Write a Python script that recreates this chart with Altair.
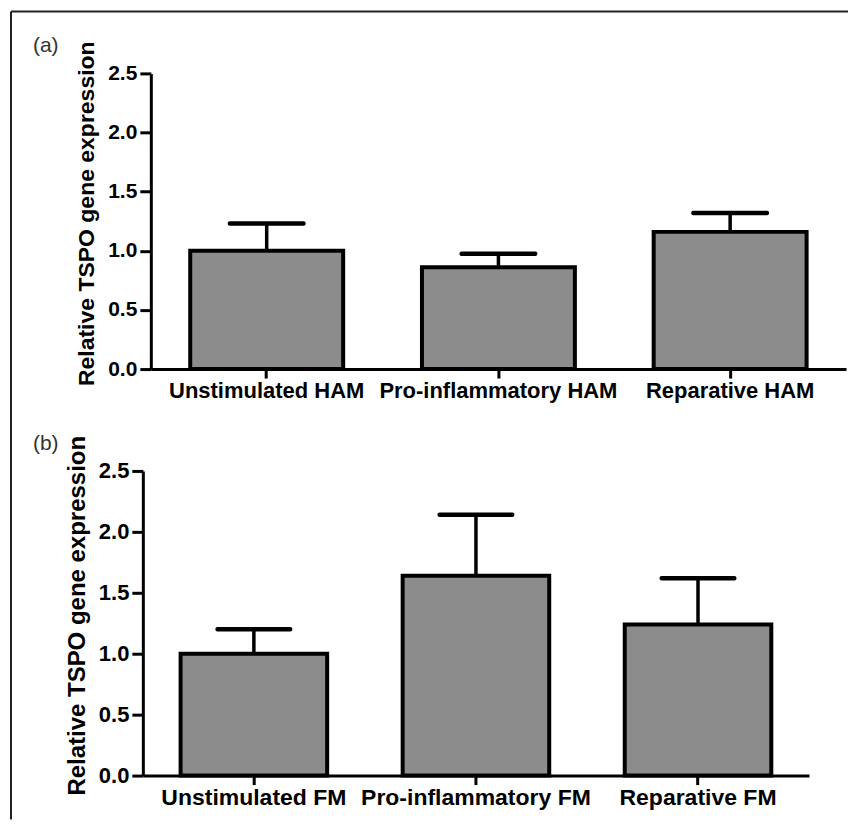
import altair as alt
import pandas as pd

# ---- data ----
cats_a = ["Unstimulated HAM", "Pro-inflammatory HAM", "Reparative HAM"]
mean_a = [1.00, 0.86, 1.16]
upper_a = [1.23, 0.975, 1.32]

cats_b = ["Unstimulated FM", "Pro-inflammatory FM", "Reparative FM"]
mean_b = [1.00, 1.64, 1.24]
upper_b = [1.20, 2.14, 1.62]

y_ticks = [0.0, 0.5, 1.0, 1.5, 2.0, 2.5]
y_title = "Relative TSPO gene expression"
letters = ["(a)", "(b)"]

FONT = "Liberation Sans"
FILL = "#8c8c8c"


def panel(cats, means, uppers, letter, w, h, xr, axis_off, xfs, yfs, tfs, cap, frame=False):
    df = pd.DataFrame({"cat": cats, "mean": means, "upper": uppers})
    sc = dict(paddingInner=0.34, paddingOuter=0.17)
    if xr is not None:
        sc["range"] = xr
    x = alt.X(
        "cat:N", sort=cats, title=None,
        scale=alt.Scale(**sc),
        axis=alt.Axis(labelAngle=0, labelFont=FONT, labelFontSize=xfs, labelLimit=0,
                      labelFontWeight="bold", labelColor="black", labelPadding=2,
                      tickSize=9, tickWidth=3, tickColor="black",
                      domainColor="black", domainWidth=3, bandPosition=0.5),
    )
    y = alt.Y(
        "mean:Q", title=y_title,
        scale=alt.Scale(domain=[0, 2.5], nice=False),
        axis=alt.Axis(values=y_ticks, format=".1f", offset=axis_off, grid=False,
                      labelFont=FONT, labelFontSize=yfs, labelFontWeight="bold",
                      labelColor="black", labelPadding=3,
                      tickSize=11, tickWidth=3, tickColor="black",
                      domainColor="black", domainWidth=3,
                      titleFont=FONT, titleFontSize=tfs, titleFontWeight="bold",
                      titleColor="black", titlePadding=9, titleY=h / 2 - 8),
    )
    base = alt.Chart(df)
    err = base.mark_rule(stroke="black", strokeWidth=3.5).encode(x=x, y=y, y2="upper:Q")
    caps = base.mark_tick(color="black", opacity=1, thickness=4.5, size=cap,
                          cornerRadius=2).encode(x=x, y=alt.Y("upper:Q"))
    bars = base.mark_bar(fill=FILL, stroke="black", strokeWidth=4, opacity=1).encode(x=x, y=y)
    lab = alt.Chart(pd.DataFrame({"t": [letter]})).mark_text(
        align="left", baseline="alphabetic", font=FONT, fontSize=21, color="#333333"
    ).encode(x=alt.value(-110), y=alt.value(-21), text="t:N")
    layers = [err, caps, bars, lab]
    if frame:
        fdf = alt.Chart(pd.DataFrame({"k": [0]}))
        top = fdf.mark_rule(color="#222222", strokeWidth=2).encode(
            x=alt.value(-132), x2=alt.value(706), y=alt.value(-62))
        left = fdf.mark_rule(color="#222222", strokeWidth=2).encode(
            x=alt.value(-132), y=alt.value(-62), y2=alt.value(747))
        layers += [top, left]
    return alt.layer(*layers).properties(width=w, height=h)


pa = panel(cats_a, mean_a, upper_a, letters[0], 704, 296, [8, 704], -8, 22, 21, 23, 78, frame=True)
pb = panel(cats_b, mean_b, upper_b, letters[1], 667, 305, None, 0, 23, 22, 24, 77)

chart = alt.vconcat(pa, pb, spacing=102, bounds="flush").properties(
    padding={"left": 2, "top": 2, "right": 0, "bottom": 0},
    background="white",
).configure_view(stroke=None)

chart.save("out.html", embed_options={"renderer": "svg", "actions": False})
